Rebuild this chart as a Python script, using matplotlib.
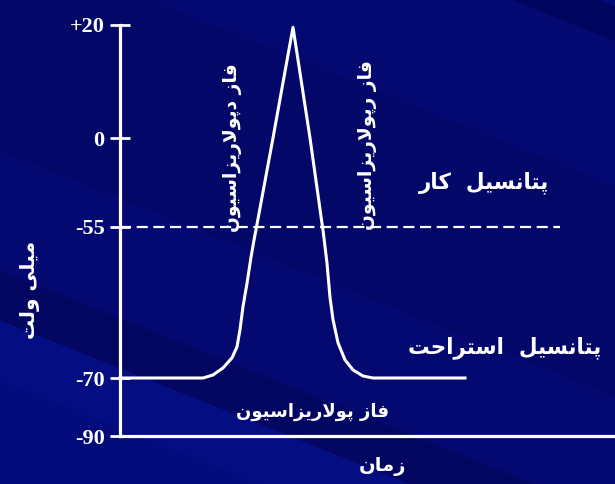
import numpy as np
import matplotlib
matplotlib.use("Agg")
import matplotlib.pyplot as plt

# ---------------- data ----------------
time_ms = [0.00, 0.83, 0.93, 1.03, 1.12, 1.17, 1.20, 1.23, 1.27, 1.31, 1.34, 1.365,
           1.53, 1.73, 1.90, 2.025, 2.03, 2.07, 2.10, 2.13, 2.18, 2.25, 2.33, 2.43,
           2.53, 3.45]
voltage_mv = [-70, -70, -69.7, -69.0, -68.0, -66.9, -65.2, -62.9, -60.6, -58.0, -56.3, -55,
              0, 19.6, 0, -55, -55.3, -58.6, -62.0, -64.2, -66.5, -68.2, -69.2, -69.8,
              -70, -70]
threshold_mv = -55
threshold_span = [0.0, 4.4]
ytick_values = [20, 0, -55, -70, -90]
ytick_labels = ["+20", "0", "-55", "-70", "-90"]

label_action = "پتانسیل  کار"
label_rest = "پتانسیل  استراحت"
label_depol = "فاز دپولاریزاسیون"
label_repol = "فاز رپولاریزاسیون"
label_pol = "فاز پولاریزاسیون"
label_y = "میلی ولت"
label_x = "زمان"

# ---------------- Arabic/Persian shaping ----------------
FORMS = {
    'ا': ('\uFE8D', '\uFE8E', None, None),
    'ب': ('\uFE8F', '\uFE90', '\uFE91', '\uFE92'),
    'پ': ('\uFB56', '\uFB57', '\uFB58', '\uFB59'),
    'ت': ('\uFE95', '\uFE96', '\uFE97', '\uFE98'),
    'ح': ('\uFEA1', '\uFEA2', '\uFEA3', '\uFEA4'),
    'د': ('\uFEA9', '\uFEAA', None, None),
    'ر': ('\uFEAD', '\uFEAE', None, None),
    'ز': ('\uFEAF', '\uFEB0', None, None),
    'س': ('\uFEB1', '\uFEB2', '\uFEB3', '\uFEB4'),
    'ف': ('\uFED1', '\uFED2', '\uFED3', '\uFED4'),
    'ک': ('\uFB8E', '\uFB8F', '\uFB90', '\uFB91'),
    'ل': ('\uFEDD', '\uFEDE', '\uFEDF', '\uFEE0'),
    'م': ('\uFEE1', '\uFEE2', '\uFEE3', '\uFEE4'),
    'ن': ('\uFEE5', '\uFEE6', '\uFEE7', '\uFEE8'),
    'و': ('\uFEED', '\uFEEE', None, None),
    'ی': ('\uFBFC', '\uFBFD', '\uFBFE', '\uFBFF'),
}


def shape(s):
    units = []
    i = 0
    while i < len(s):
        if s[i] == 'ل' and i + 1 < len(s) and s[i + 1] == 'ا':
            units.append('لا')
            i += 2
        else:
            units.append(s[i])
            i += 1

    def dual(u):
        return u in FORMS and FORMS[u][2] is not None

    def joining(u):
        return u in FORMS or u == 'لا'

    out = []
    for k, u in enumerate(units):
        prev = units[k - 1] if k > 0 else None
        nxt = units[k + 1] if k + 1 < len(units) else None
        jp = prev is not None and dual(prev) and joining(u)
        if u == 'لا':
            out.append('\uFEFC' if jp else '\uFEFB')
            continue
        if u not in FORMS:
            out.append(u)
            continue
        jn = dual(u) and nxt is not None and joining(nxt)
        iso, fin, ini, med = FORMS[u]
        if jp and jn:
            out.append(med)
        elif jp:
            out.append(fin)
        elif jn:
            out.append(ini)
        else:
            out.append(iso)
    return ''.join(reversed(out))


# ---------------- figure ----------------
W, H = 615, 484
fig = plt.figure(figsize=(W / 100, H / 100), dpi=100)

# background with diagonal bands
yy, xx = np.mgrid[0:H, 0:W]
d = yy - 0.4 * xx
bands = [(-1e9, (4, 10, 118)), (-240, (1, 4, 92)), (-205, (3, 9, 112)),
         (-60, (2, 7, 104)), (150, (3, 9, 112)), (270, (2, 6, 96)),
         (320, (5, 13, 130)), (380, (4, 12, 124))]
img = np.zeros((H, W, 3))
for thr, col in bands:
    img[d >= thr] = np.array(col) / 255.0
bg = fig.add_axes([0, 0, 1, 1], zorder=-5)
bg.imshow(img, aspect='auto', interpolation='bilinear')
bg.axis('off')

# schematic (non-linear) voltage axis
anchor_v = [-90, -70, -55, 0, 20]
anchor_h = [0, 58, 209, 298, 411]


def fwd(v):
    return np.interp(v, anchor_v, anchor_h)


def inv(h):
    return np.interp(h, anchor_h, anchor_v)


ax_left, ax_bottom_px, ax_top_px = 120, 436, 25
ax = fig.add_axes([ax_left / W, (H - ax_bottom_px) / H, 1 - ax_left / W,
                   (ax_bottom_px - ax_top_px) / H])
ax.set_facecolor('none')
ax.set_yscale('function', functions=(fwd, inv))
ax.set_ylim(-90, 20)
ax.set_xlim(0, 4.95)

for side in ['top', 'right']:
    ax.spines[side].set_visible(False)
for side in ['left', 'bottom']:
    ax.spines[side].set_color('white')
    ax.spines[side].set_linewidth(2.3)

ax.set_xticks([])
ax.set_yticks(ytick_values)
ax.set_yticklabels(ytick_labels)
ax.yaxis.set_minor_locator(matplotlib.ticker.NullLocator())
ax.tick_params(axis='y', direction='inout', length=14, width=2, colors='white', pad=4)
for lbl in ax.get_yticklabels():
    lbl.set_fontfamily('Liberation Serif')
    lbl.set_fontweight('bold')
    lbl.set_fontsize(16)

ax.plot(time_ms, voltage_mv, color='white', lw=2.2, clip_on=False,
        solid_joinstyle='round')
ax.plot(threshold_span, [threshold_mv, threshold_mv], color='white', lw=1.6,
        dashes=(5, 2.5), clip_on=False)

fnt = dict(color='white', fontfamily='DejaVu Sans', fontweight='bold')


def ftext(px, py, s, **kw):
    args = dict(fnt)
    args.update(kw)
    fig.text(px / W, 1 - py / H, shape(s), ha='center', va='center', **args)


ftext(484, 183, label_action, fontsize=15.5)
ftext(505, 348, label_rest, fontsize=15.5)
ftext(232, 148, label_depol, fontsize=13.5, rotation=90)
ftext(367, 145, label_repol, fontsize=13.5, rotation=90)
ftext(313, 412, label_pol, fontsize=13)
ftext(30, 290, label_y, fontsize=14.5, rotation=90)
ftext(382, 467, label_x, fontsize=14)

fig.savefig('out.png', dpi=100)
